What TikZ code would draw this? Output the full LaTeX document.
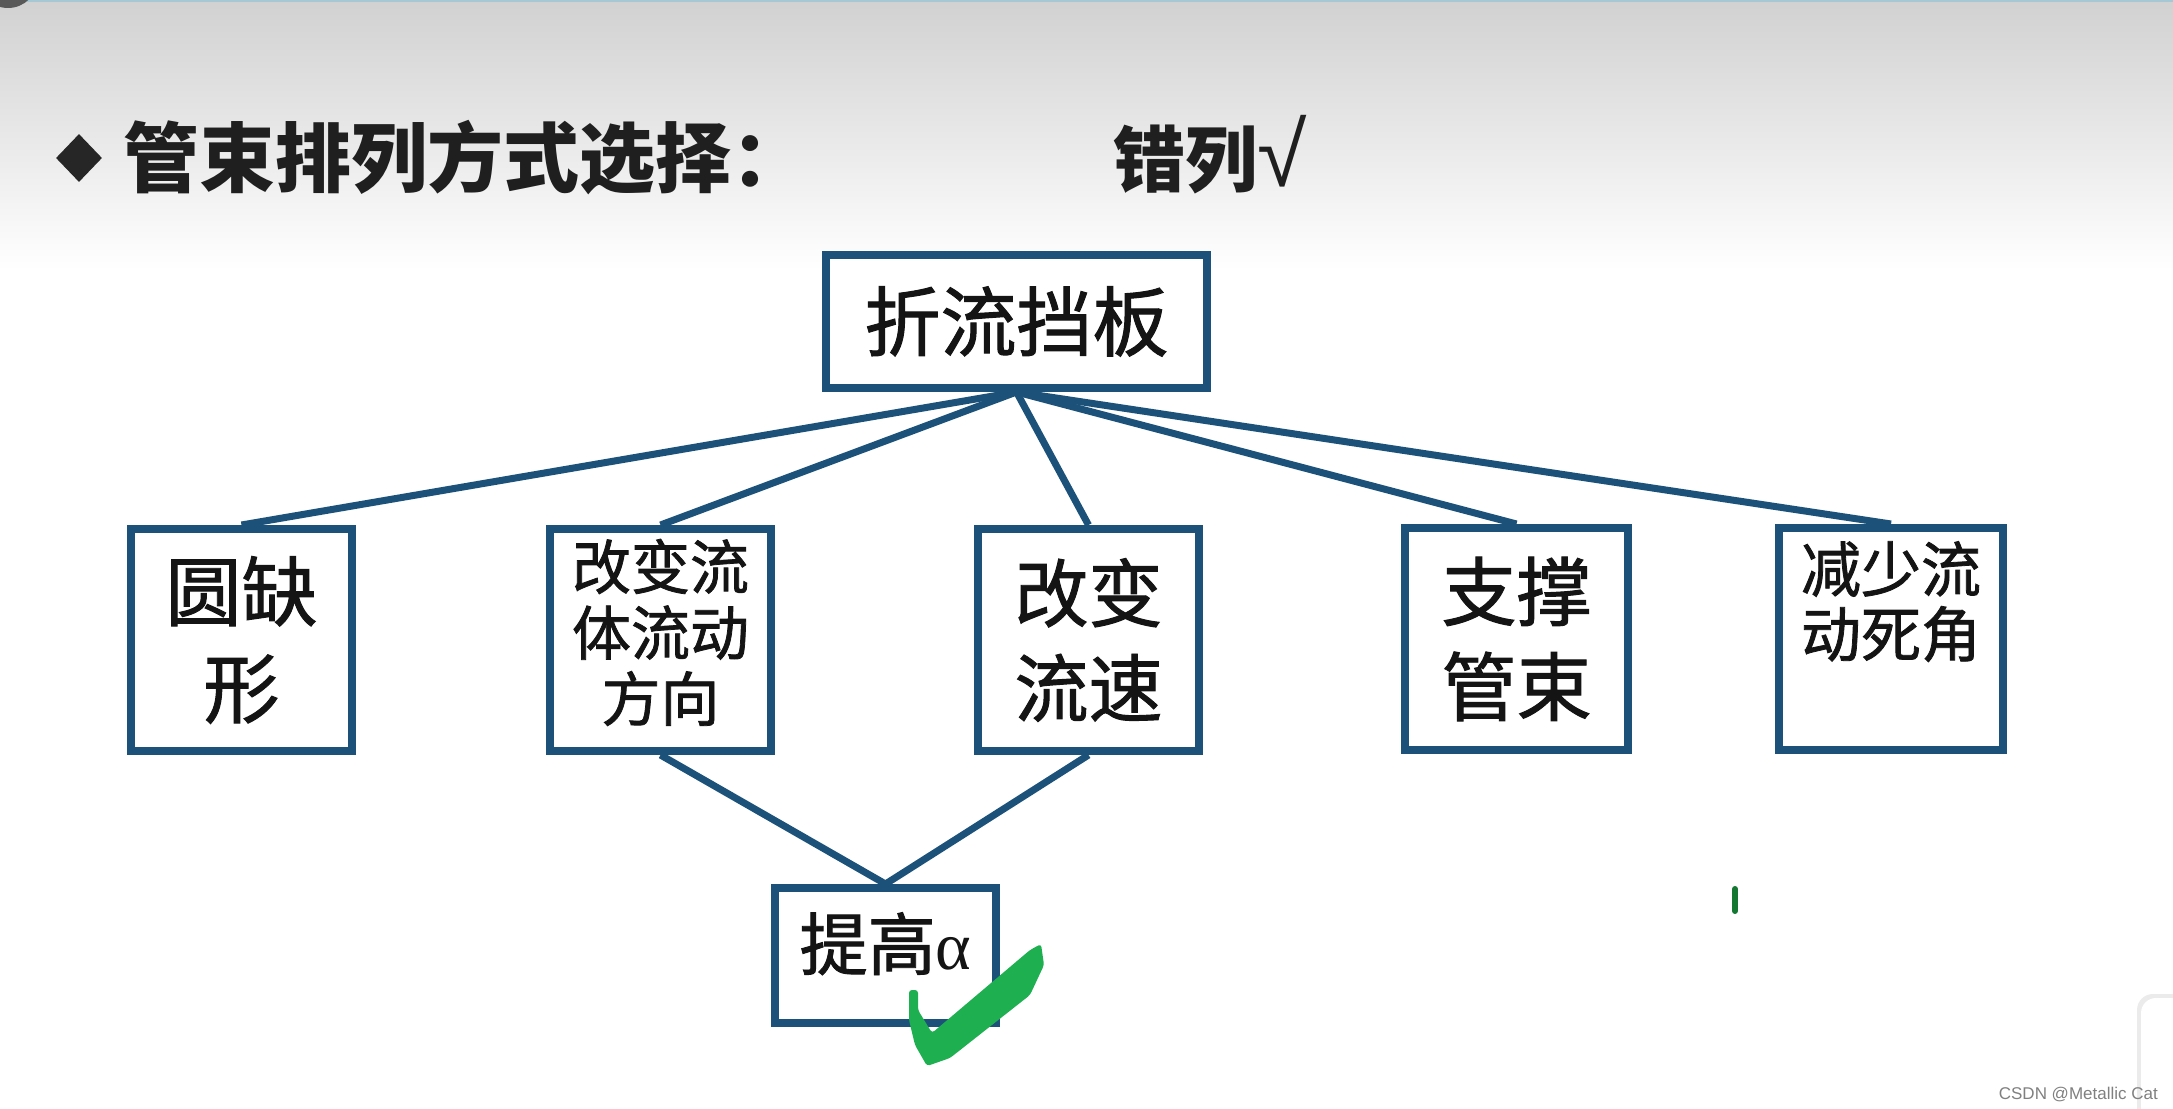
\documentclass[tikz,border=0pt]{standalone}
\usepackage{fontspec}
\setmainfont{Liberation Serif}
\newfontfamily\cjk[FakeBold=1.3]{Noto Sans CJK SC}
\newfontfamily\cjkt{Noto Sans CJK SC}
\newfontfamily\wmfont{Liberation Sans}
\usetikzlibrary{shapes.geometric}
\definecolor{boxblue}{RGB}{28,82,122}
\definecolor{checkgreen}{RGB}{30,176,80}
\definecolor{darkgreen}{RGB}{20,120,50}
\definecolor{topline}{RGB}{165,200,212}
\begin{document}
\begin{tikzpicture}[x=1pt,y=-1pt,
  box/.style={draw=boxblue, line width=8pt, fill=white, inner sep=0pt, align=center, text=black!92},
  link/.style={draw=boxblue, line width=7pt},
]
\useasboundingbox (0,0) rectangle (2173,1108);
% background
\fill[white] (0,0) rectangle (2173,1108);
\shade[top color=black!18, bottom color=white] (0,0) rectangle (2173,270);
\draw[topline, line width=3pt] (0,1) -- (2173,1);
\fill[black!65] (8,-22) circle (30);
% title
\node[diamond, fill=black!85, inner sep=0pt, minimum width=46pt, minimum height=48pt] (dia) at (79,158) {};
\node[anchor=base west, inner sep=0pt, font={\cjkt\bfseries\fontsize{76pt}{76pt}\selectfont}, text=black!88] (title) at (123,186) {管束排列方式选择：};
\node[anchor=base west, inner sep=0pt, font={\cjkt\bfseries\fontsize{72pt}{72pt}\selectfont}, text=black!88] (ans) at (1113,186) {错列{\wmfont\mdseries\fontsize{90pt}{90pt}\selectfont √}};
% boxes
\node[box, minimum width=381pt, minimum height=133pt, font={\cjk\fontsize{76pt}{76pt}\selectfont}] (top) at (1016.5,321.5) {折流挡板};
\node[box, minimum width=221pt, minimum height=222pt, font={\cjk\fontsize{76pt}{97pt}\selectfont}] (b1) at (241.5,640) {圆缺\\形};
\node[box, minimum width=221pt, minimum height=222pt, text depth=20pt, font={\cjk\fontsize{59pt}{66pt}\selectfont}] (b2) at (660.5,640) {改变流\\体流动\\方向};
\node[box, minimum width=221pt, minimum height=222pt, font={\cjk\fontsize{74pt}{95pt}\selectfont}] (b3) at (1088.5,640) {改变\\流速};
\node[box, minimum width=223pt, minimum height=222pt, font={\cjk\fontsize{75pt}{95pt}\selectfont}] (b4) at (1516.5,639) {支撑\\管束};
\node[box, minimum width=224pt, minimum height=222pt, text depth=80pt, font={\cjk\fontsize{60pt}{65pt}\selectfont}] (b5) at (1891,639) {减少流\\动死角};
\node[box, minimum width=221pt, minimum height=135pt, text depth=29pt, font={\cjk\fontsize{68pt}{68pt}\selectfont}] (alpha) at (885.5,955.5) {提高{\rmfamily α}};
% connectors
\foreach \b in {b1,b2,b3,b4,b5} \draw[link] (top.south) -- (\b.north);
\draw[link] (b2.south) -- (alpha.north);
\draw[link] (b3.south) -- (alpha.north);
% check mark
\fill[checkgreen, rounded corners=3pt] (909,990) -- (918,990) -- (918,1010) -- (932,1033) -- (1030,950) -- (1041,944) -- (1044,965) -- (1030,995) -- (950,1058) -- (927,1066) -- (915,1045) -- (909,1020) -- cycle;
\draw[darkgreen, line width=6pt, line cap=round] (1735,889) -- (1735,911);
% bottom-right widget and watermark
\fill[black!8, rounded corners=16pt] (2137,994) rectangle (2210,1140);
\fill[white, rounded corners=15pt] (2141,998) rectangle (2210,1140);
\node[anchor=base east, inner sep=0pt, font={\wmfont\fontsize{17pt}{17pt}\selectfont}, text=black!50] (wm) at (2158,1099) {CSDN @Metallic Cat};
\end{tikzpicture}
\end{document}
